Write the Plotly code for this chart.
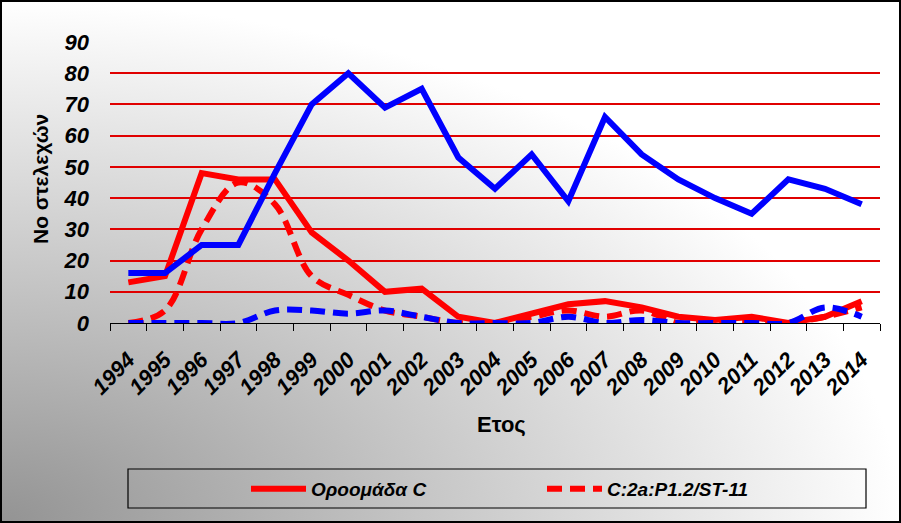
import base64
import plotly.graph_objects as go

years = [str(y) for y in range(1994, 2015)]
serogroup_c = [13, 15, 48, 46, 46, 29, 20, 10, 11, 2, 0, 3, 6, 7, 5, 2, 1, 2, 0, 2, 7]
c2a_st11 = [0, 4, 30, 45, 38, 15, 9, 4, 2, 0, 0, 2, 4, 2, 4, 0, 0, 0, 0, 2, 5]
blue_total = [16, 16, 25, 25, 48, 70, 80, 69, 75, 53, 43, 54, 39, 66, 54, 46, 40, 35, 46, 43, 38]
blue_sub = [0, 0, 0, 0, 4, 4, 3, 4, 2, 0, 0, 0, 2, 0, 1, 0, 0, 0, 0, 5, 2]
y_ticks = [0, 10, 20, 30, 40, 50, 60, 70, 80, 90]

W, H = 901, 523
L, R, T, B = 110, 21, 42, 200
PW, PH = W - L - R, H - T - B

def px_x(px):
    return (px - L) / PW

def px_y(py):
    return (H - B - py) / PH

FONT = "Arial, Liberation Sans, sans-serif"

svg = (
    '<svg xmlns="http://www.w3.org/2000/svg" width="901" height="523" preserveAspectRatio="none" viewBox="0 0 901 523">'
    '<defs><radialGradient id="g" cx="0" cy="1" r="1" gradientUnits="objectBoundingBox">'
    '<stop offset="0" stop-color="#939393"/><stop offset="1" stop-color="#ffffff"/>'
    '</radialGradient></defs><rect x="0" y="0" width="901" height="523" fill="url(#g)"/></svg>'
)
src = "data:image/svg+xml;base64," + base64.b64encode(svg.encode()).decode()

fig = go.Figure()
fig.add_trace(go.Scatter(x=years, y=serogroup_c, mode="lines", name="Οροομάδα C",
                         line=dict(color="#ff0000", width=6), cliponaxis=False))
fig.add_trace(go.Scatter(x=years, y=c2a_st11, mode="lines", name="C:2a:P1.2/ST-11",
                         line=dict(color="#ff0000", width=6, dash="15px,8px", shape="spline"),
                         cliponaxis=False))
fig.add_trace(go.Scatter(x=years, y=blue_total, mode="lines", showlegend=False,
                         line=dict(color="#0000ff", width=6), cliponaxis=False))
fig.add_trace(go.Scatter(x=years, y=blue_sub, mode="lines", showlegend=False,
                         line=dict(color="#0000ff", width=6, dash="15px,8px", shape="spline"),
                         cliponaxis=False))

fig.update_layout(
    width=W, height=H,
    margin=dict(l=L, r=R, t=T, b=B, pad=0),
    paper_bgcolor="white",
    plot_bgcolor="rgba(0,0,0,0)",
    font=dict(family=FONT, color="black"),
    showlegend=True,
    legend=dict(orientation="h", x=px_x(542), y=px_y(489), xanchor="center", yanchor="middle",
                bgcolor="rgba(0,0,0,0)", borderwidth=0,
                font=dict(family=FONT, size=19, weight="bold", style="italic", color="black"),
                itemwidth=55, entrywidth=226, entrywidthmode="pixels"),
    images=[dict(source=src, xref="paper", yref="paper", x=px_x(0), y=px_y(0),
                 sizex=W / PW, sizey=H / PH, xanchor="left", yanchor="top",
                 sizing="stretch", layer="below")],
    shapes=[
        dict(type="rect", xref="paper", yref="paper", x0=px_x(128), x1=px_x(866),
             y0=px_y(469), y1=px_y(508), line=dict(color="black", width=1.2)),
        dict(type="rect", xref="paper", yref="paper", x0=px_x(1), x1=px_x(900),
             y0=px_y(1), y1=px_y(522), line=dict(color="black", width=2)),
    ],
    annotations=[
        dict(text="Ετος", xref="paper", yref="paper", x=px_x(501), y=px_y(424),
             showarrow=False, xanchor="center", yanchor="middle",
             font=dict(family=FONT, size=22, weight="bold", color="black")),
        dict(text="Νο στελεχών", xref="paper", yref="paper", x=px_x(40), y=px_y(179),
             showarrow=False, xanchor="center", yanchor="middle", textangle=-90,
             font=dict(family=FONT, size=21, weight="bold", color="black")),
    ],
)

fig.update_xaxes(type="category", categoryorder="array", categoryarray=years,
                 range=[-0.5, len(years) - 0.5],
                 showline=True, linecolor="black", linewidth=1.2,
                 ticks="outside", ticklen=7, tickcolor="black", tickwidth=1.2,
                 tickson="boundaries", tickangle=-45, showgrid=False, zeroline=False,
                 ticklabelstandoff=14,
                 tickfont=dict(family=FONT, size=22, weight="bold", style="italic", color="black"))
fig.update_yaxes(range=[0, 90], tickvals=y_ticks, ticktext=[str(v) for v in y_ticks],
                 showline=False, showgrid=True, gridcolor="#e00000", gridwidth=2,
                 zeroline=False, ticks="", ticklabelstandoff=20,
                 tickfont=dict(family=FONT, size=22, weight="bold", style="italic", color="black"))

fig.write_html("out.html", config={"displayModeBar": False},
               post_script="document.body.style.margin='0';document.body.style.overflow='hidden';")
